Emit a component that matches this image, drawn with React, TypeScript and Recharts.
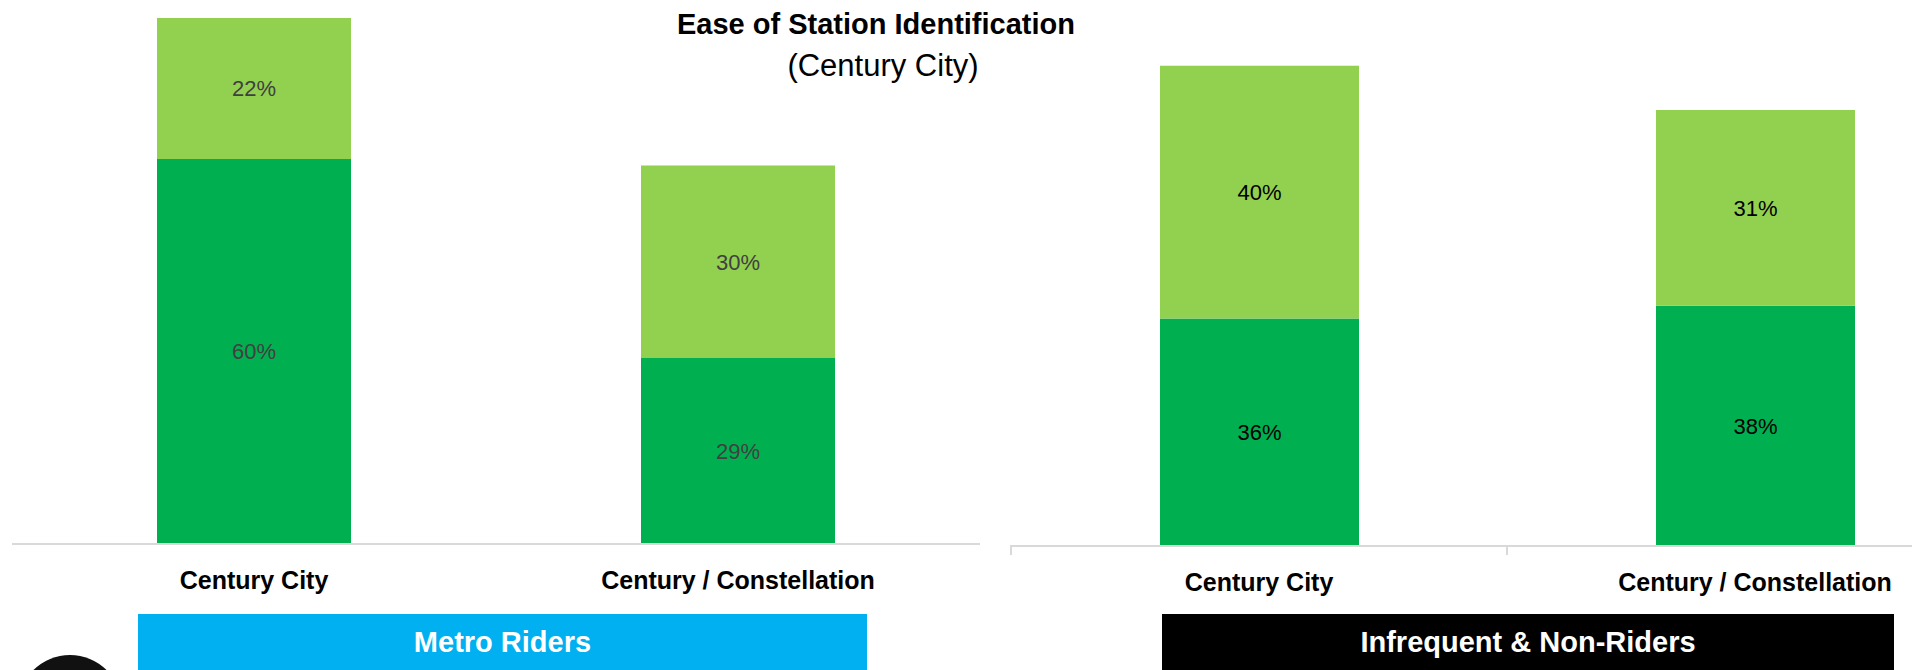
import { BarChart, Bar, XAxis, YAxis, LabelList } from "recharts";

const categories = ["Century City", "Century / Constellation"];

// Metro Riders
const metroVeryEasy = [60, 29];
const metroSomewhatEasy = [22, 30];

// Infrequent & Non-Riders
const otherVeryEasy = [36, 38];
const otherSomewhatEasy = [40, 31];

const DARK_GREEN = "#00b050";
const LIGHT_GREEN = "#92d050";
const FONT = '"Liberation Sans", Arial, sans-serif';

const metroData = categories.map((name, i) => ({
  name,
  veryEasy: metroVeryEasy[i],
  somewhatEasy: metroSomewhatEasy[i],
}));

const otherData = categories.map((name, i) => ({
  name,
  veryEasy: otherVeryEasy[i],
  somewhatEasy: otherSomewhatEasy[i],
}));

const pct = (v: any) => `${v}%`;

// category label, optionally with a small divider tick at the band's left edge
const makeTick = (dividers: boolean, halfBand: number) => (props: any) => {
  const { x, y, payload } = props;
  const half = payload && typeof payload.offset === "number" && payload.offset > 0 ? payload.offset : halfBand;
  return (
    <g>
      {dividers && (
        <line x1={x - half} x2={x - half} y1={y - 1} y2={y + 9} stroke="#d9d9d9" strokeWidth={2} />
      )}
      <text
        x={x}
        y={y + 38}
        textAnchor="middle"
        dominantBaseline="middle"
        fontFamily={FONT}
        fontWeight="bold"
        fontSize={25}
        fill="#000"
      >
        {payload.value}
      </text>
    </g>
  );
};

function StackChart({
  data,
  width,
  margin,
  axisHeight,
  max,
  barSize,
  labelColor,
  dividers,
}: any) {
  return (
    <BarChart width={width} height={620} data={data} margin={margin}>
      <XAxis
        dataKey="name"
        height={axisHeight}
        tickLine={false}
        tickSize={0}
        tickMargin={0}
        axisLine={{ stroke: "#d9d9d9", strokeWidth: 2 }}
        tick={makeTick(dividers, (width - margin.left - margin.right) / 4)}
        interval={0}
      />
      <YAxis hide domain={[0, max]} />
      <Bar dataKey="veryEasy" stackId="a" fill={DARK_GREEN} barSize={barSize} isAnimationActive={false}>
        <LabelList
          dataKey="veryEasy"
          position="center"
          formatter={pct}
          fill={labelColor}
          fontSize={22}
          fontFamily={FONT}
        />
      </Bar>
      <Bar dataKey="somewhatEasy" stackId="a" fill={LIGHT_GREEN} barSize={barSize} isAnimationActive={false}>
        <LabelList
          dataKey="somewhatEasy"
          position="center"
          formatter={pct}
          fill={labelColor}
          fontSize={22}
          fontFamily={FONT}
        />
      </Bar>
    </BarChart>
  );
}

export default function App() {
  return (
    <div
      style={{
        position: "absolute",
        left: 0,
        top: 0,
        width: 1912,
        height: 670,
        overflow: "hidden",
        background: "#fff",
        fontFamily: FONT,
      }}
    >
      <div style={{ position: "absolute", left: 0, top: 0 }}>
        <StackChart
          data={metroData}
          width={1000}
          margin={{ top: 0, right: 20, left: 12, bottom: 0 }}
          axisHeight={76}
          max={84.8}
          barSize={194}
          labelColor="#404040"
          dividers={false}
        />
      </div>
      <div style={{ position: "absolute", left: 1000, top: 0 }}>
        <StackChart
          data={otherData}
          width={1010}
          margin={{ top: 0, right: 7, left: 11, bottom: 0 }}
          axisHeight={74}
          max={86.4}
          barSize={199}
          labelColor="#000"
          dividers={true}
        />
      </div>

      <div
        style={{
          position: "absolute",
          left: 576,
          width: 600,
          top: 10,
          textAlign: "center",
          fontSize: 29,
          lineHeight: "29px",
          fontWeight: "bold",
          color: "#000",
        }}
      >
        Ease of Station Identification
      </div>
      <div
        style={{
          position: "absolute",
          left: 583,
          width: 600,
          top: 50,
          textAlign: "center",
          fontSize: 31,
          lineHeight: "31px",
          color: "#000",
        }}
      >
        (Century City)
      </div>

      <div
        style={{
          position: "absolute",
          left: 138,
          top: 614,
          width: 729,
          height: 56,
          background: "#00b0f0",
          color: "#fff",
          fontWeight: "bold",
          fontSize: 29,
          display: "flex",
          alignItems: "center",
          justifyContent: "center",
        }}
      >
        Metro Riders
      </div>
      <div
        style={{
          position: "absolute",
          left: 1162,
          top: 614,
          width: 732,
          height: 56,
          background: "#000",
          color: "#fff",
          fontWeight: "bold",
          fontSize: 29,
          display: "flex",
          alignItems: "center",
          justifyContent: "center",
        }}
      >
        Infrequent &amp; Non-Riders
      </div>

      <div
        style={{
          position: "absolute",
          left: 18,
          top: 655,
          width: 104,
          height: 104,
          borderRadius: "50%",
          background: "#111",
        }}
      />
    </div>
  );
}
